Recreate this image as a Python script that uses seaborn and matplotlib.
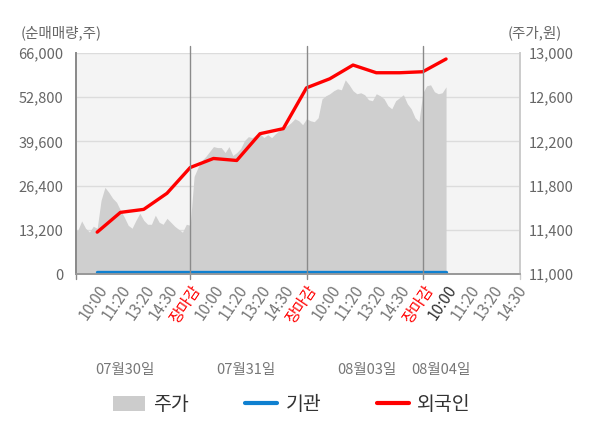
import matplotlib
matplotlib.use("Agg")
import numpy as np
import pandas as pd
import matplotlib.pyplot as plt
import seaborn as sns
from matplotlib.patches import Patch
from matplotlib.lines import Line2D

# dates and intraday tick labels
days = ["07월30일", "07월31일", "08월03일", "08월04일"]
times = ["10:00", "11:20", "13:20", "14:30", "장마감"]

# stock price (원), sampled evenly through each trading day
price_0730 = [11405, 11396, 11480, 11414, 11380, 11432, 11414, 11667, 11784, 11739,
              11685, 11649, 11577, 11514, 11441, 11414, 11486, 11550, 11486, 11450,
              11450, 11532, 11468, 11450, 11504, 11468, 11432, 11405, 11378, 11450, 11441]
price_0731 = [11883, 11964, 12027, 12063, 12108, 12153, 12144, 12144, 12099, 12153,
              12072, 12099, 12135, 12207, 12243, 12234, 12261, 12270, 12234, 12261,
              12234, 12270, 12297, 12324, 12342, 12369, 12405, 12387, 12351, 12405]
price_0803 = [12387, 12378, 12414, 12585, 12613, 12631, 12658, 12676, 12667, 12757,
              12712, 12658, 12631, 12640, 12622, 12577, 12568, 12631, 12613, 12586,
              12523, 12495, 12568, 12595, 12622, 12541, 12495, 12414, 12378, 12640]
price_0804 = [12703, 12712, 12649, 12631, 12640, 12694]

# cumulative net buying (주) at each tick time
foreign = [12500, 18400, 19300, 24100, 31800, 34500, 33900, 41900, 43400, 55600,
           58300, 62400, 60100, 60100, 60400, 64200]
institution = [500, 500, 500, 500, 500, 500, 500, 500, 500, 500,
               500, 500, 500, 500, 500, 500]

SAMPLES_PER_DAY = 30

# build price frame: x in "slot" units, 5 slots per day
rows = []
for d, series in enumerate([price_0730, price_0731, price_0803, price_0804]):
    start = 0 if d == 0 else 1
    for i, p in enumerate(series):
        rows.append((d * 5 + (i + start) * 5 / SAMPLES_PER_DAY, p))
price_df = pd.DataFrame(rows, columns=["x", "price"])

tick_pos, tick_lab = [], []
for d in range(len(days)):
    labs = times if d < len(days) - 1 else times[:4]
    for k, t in enumerate(labs):
        tick_pos.append(d * 5 + k + 1)
        tick_lab.append(t)

flow_df = pd.DataFrame({"x": tick_pos[:len(foreign)],
                        "foreign": foreign,
                        "institution": institution})

sns.set_theme(style="white")
plt.rcParams["font.family"] = ["Noto Sans CJK KR", "DejaVu Sans"]

fig = plt.figure(figsize=(6, 4.28), dpi=100)
ax2 = fig.add_axes([0.1267, 0.3598, 0.74, 0.5164])
ax = ax2.twinx()
# volume axis on the left, price on the right
ax.yaxis.tick_left()
ax2.yaxis.tick_right()
ax.set_zorder(ax2.get_zorder() + 1)
ax.patch.set_visible(False)
ax2.set_facecolor("#f4f4f4")

xmin, xmax = 0.09, 19.18
ax2.fill_between(price_df["x"], price_df["price"], 11000, color="#cfcfcf", lw=0)
ax2.set_ylim(11000, 13000)
ax2.set_yticks(np.arange(11000, 13001, 400))
ax2.set_yticklabels([f"{v:,}" for v in range(11000, 13001, 400)])
ax2.grid(axis="y", color="#dcdcdc", lw=1)
ax2.set_axisbelow(True)

sns.lineplot(data=flow_df, x="x", y="institution", ax=ax, color="#0f80d0", lw=2.4)
sns.lineplot(data=flow_df, x="x", y="foreign", ax=ax, color="#ff0000", lw=2.4)
ax.set_ylim(0, 66000)
ax.set_yticks(np.arange(0, 66001, 13200))
ax.set_yticklabels([f"{v:,}" for v in range(0, 66001, 13200)])
ax.set_xlabel("")
ax.set_ylabel("")

# day separators, a little taller than the plot, with small ticks below
for b in [5, 10, 15]:
    ax.axvline(b, ymin=-0.022, ymax=1.032, color="#8a8a8a", lw=1, clip_on=False)
ax.axvline(xmin, ymin=-0.022, ymax=0, color="#8a8a8a", lw=1, clip_on=False)
ax.axvline(xmax, ymin=-0.022, ymax=0, color="#cccccc", lw=1, clip_on=False)

for a in (ax, ax2):
    a.set_xlim(xmin, xmax)
    a.spines["top"].set_visible(False)
    a.spines["left"].set_color("#8a8a8a")
    a.spines["right"].set_color("#cccccc")
    a.spines["bottom"].set_color("#999999")
ax.tick_params(axis="y", length=0, labelsize=10.5, labelcolor="#666666", pad=9)
ax2.tick_params(axis="y", length=0, labelsize=10.5, labelcolor="#666666", pad=6)

ax2.set_xticks(tick_pos)
ax2.set_xticklabels(tick_lab, rotation=56, ha="right", rotation_mode="anchor")
ax2.tick_params(axis="x", length=0, labelsize=11, pad=6)
ax.tick_params(axis="x", length=0, labelbottom=False)
for lbl, t, p in zip(ax2.get_xticklabels(), tick_lab, tick_pos):
    if t == "장마감":
        lbl.set_color("#ff0000")
    elif p == 16:
        lbl.set_color("#333333")
    else:
        lbl.set_color("#777777")

# date labels under the tick labels
for name, xp in zip(days, [2.2, 7.4, 12.6, 15.8]):
    ax2.text(xp, -0.435, name, transform=ax2.get_xaxis_transform(),
             ha="center", va="center", fontsize=10.5, color="#777777")

fig.text(0.035, 0.923, "(순매매량,주)", fontsize=10.5, color="#666666", va="center")
fig.text(0.937, 0.923, "(주가,원)", fontsize=10.5, color="#666666", va="center", ha="right")

handles = [Patch(facecolor="#cccccc", edgecolor="none"),
           Line2D([], [], color="#0f80d0", lw=3),
           Line2D([], [], color="#ff0000", lw=3)]
fig.legend(handles, ["주가", "기관", "외국인"], loc="center", bbox_to_anchor=(0.487, 0.054),
           ncol=3, frameon=False, fontsize=14, handlelength=1.6, handleheight=0.8,
           handletextpad=0.45, columnspacing=2.9, labelcolor="#333333")

fig.savefig("out.png", dpi=100, facecolor="white")
